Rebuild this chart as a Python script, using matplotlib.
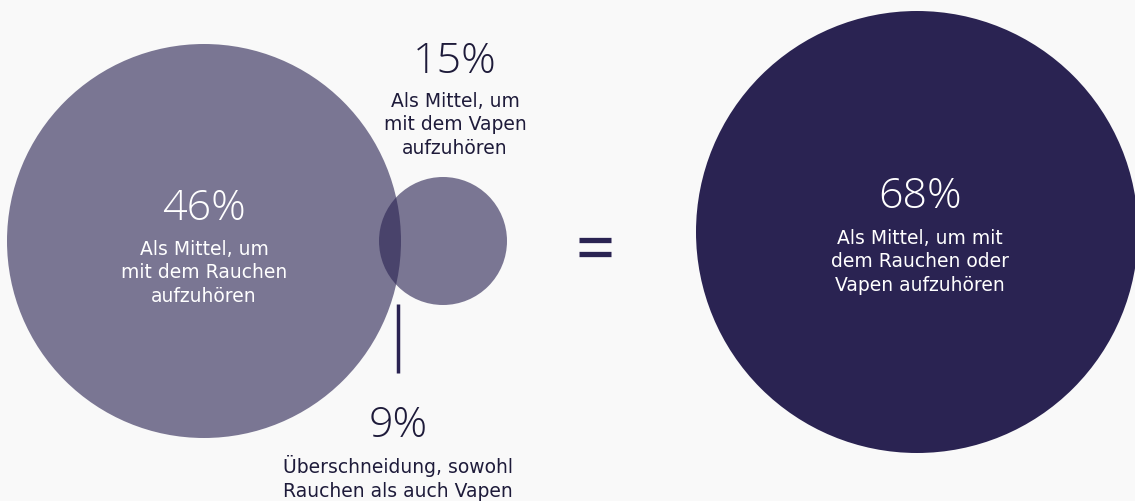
import matplotlib.pyplot as plt
from matplotlib.patches import Circle

# Data
values = ["46%", "15%", "9%", "68%"]
labels = [
    "Als Mittel, um\nmit dem Rauchen\naufzuhören",
    "Als Mittel, um\nmit dem Vapen\naufzuhören",
    "Überschneidung, sowohl\nRauchen als auch Vapen",
    "Als Mittel, um mit\ndem Rauchen oder\nVapen aufzuhören",
]

navy = "#2a2352"
bg = "#f9f9f9"

fig = plt.figure(figsize=(11.35, 5.02), dpi=100, facecolor=bg)
ax = fig.add_axes([0, 0, 1, 1])
ax.set_facecolor(bg)
ax.set_xlim(0, 1135)
ax.set_ylim(502, 0)
ax.set_aspect('equal')
ax.axis('off')

# circles (layout in pixel coords)
ax.add_patch(Circle((204, 242), 197, color=navy, alpha=0.61, lw=0))
ax.add_patch(Circle((443, 242), 64, color=navy, alpha=0.61, lw=0))
ax.add_patch(Circle((917, 233), 221, color=navy, lw=0))

# connector line to overlap
ax.plot([398, 398], [305, 374], color=navy, lw=2.5, solid_capstyle='butt')

# equals sign
ax.plot([579, 611], [240.5, 240.5], color=navy, lw=3.8, solid_capstyle='butt')
ax.plot([579, 611], [254.5, 254.5], color=navy, lw=3.8, solid_capstyle='butt')

# value + label positions
pos = [(204, 209, 273, "white"), (455, 62, 125, "#1e1b3a"),
       (398, 426, 478, "#1e1b3a"), (920, 197, 262, "white")]
for v, lab, (x, yv, yl, c) in zip(values, labels, pos):
    ax.text(x, yv, v, ha='center', va='center', fontsize=31, color=c,
            family=['Open Sans', 'DejaVu Sans'], fontweight='light')
    ax.text(x, yl, lab, ha='center', va='center', fontsize=13.5, color=c,
            linespacing=1.27, family=['DejaVu Sans'], fontweight='normal')

fig.savefig("out.png", dpi=100, facecolor=bg)
